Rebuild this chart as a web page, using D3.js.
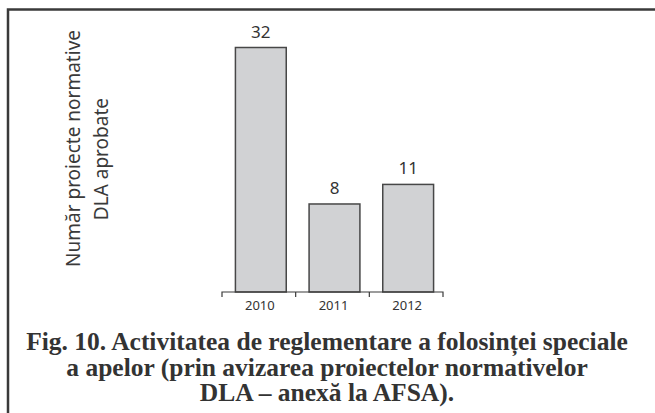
<!DOCTYPE html>
<html>
<head>
<meta charset="utf-8">
<script src="https://cdn.jsdelivr.net/npm/d3@7"></script>
<style>
  body { margin: 0; background: #fff; }
</style>
</head>
<body>
<div id="chart"></div>
<script>
const years = ["2010", "2011", "2012"];
const values = [32, 8, 11];
const yTitle = ["Număr proiecte normative", "DLA aprobate"];
const caption = [
  "Fig. 10. Activitatea de reglementare a folosinței speciale",
  "a apelor (prin avizarea proiectelor normativelor",
  "DLA – anexă la AFSA)."
];

const width = 655;
const height = 413;
const ink = "#3a3a3a";

const svg = d3.select("#chart")
  .append("svg")
  .attr("width", width)
  .attr("height", height);

// frame (left + top edges only are visible)
svg.append("path")
  .attr("d", `M8,${height} V9.5 H${width}`)
  .attr("fill", "none")
  .attr("stroke", ink)
  .attr("stroke-width", 2.5);

const baseline = 292;

const x = d3.scaleBand()
  .domain(years)
  .range([222, 443]);

// the original drawing is not to zero, so bars sit on an offset domain
const y = d3.scaleLinear()
  .domain([-5.5, 32])
  .range([baseline, 47.5]);

const barW = x.bandwidth() * 0.69;
const barX = d => x(d) + (x.bandwidth() - barW) / 2 + 2;

svg.append("g")
  .selectAll("rect")
  .data(values)
  .enter().append("rect")
  .attr("x", (d, i) => barX(years[i]))
  .attr("y", d => y(d))
  .attr("width", barW)
  .attr("height", d => baseline - y(d))
  .attr("fill", "#d1d2d4")
  .attr("stroke", "#474747")
  .attr("stroke-width", 1.5);

svg.append("g")
  .selectAll("text")
  .data(values)
  .enter().append("text")
  .attr("x", (d, i) => barX(years[i]) + barW / 2)
  .attr("y", d => y(d) - 10)
  .attr("text-anchor", "middle")
  .attr("font-family", "Noto Sans, sans-serif")
  .attr("font-size", 17)
  .attr("fill", "#333")
  .text(d => d);

// x axis with ticks at band edges
const axis = svg.append("g")
  .attr("transform", `translate(0,${baseline})`);

axis.append("path")
  .attr("d", `M${x.range()[0]},5 V0 H${x.range()[1]} V5`)
  .attr("fill", "none")
  .attr("stroke", ink)
  .attr("stroke-width", 1.2);

axis.selectAll(".sep")
  .data(years.slice(1))
  .enter().append("line")
  .attr("x1", d => x(d))
  .attr("x2", d => x(d))
  .attr("y1", 0)
  .attr("y2", 5)
  .attr("stroke", ink)
  .attr("stroke-width", 1.2);

axis.selectAll(".yr")
  .data(years)
  .enter().append("text")
  .attr("x", d => x(d) + x.bandwidth() / 2 + 1)
  .attr("y", 18)
  .attr("text-anchor", "middle")
  .attr("font-family", "Noto Sans, sans-serif")
  .attr("font-size", 13)
  .attr("fill", "#333")
  .text(d => d);

// y title, two rotated lines; the ends line up near the top of the frame
svg.append("g")
  .selectAll("text")
  .data(yTitle)
  .enter().append("text")
  .attr("transform", (d, i) => `translate(${80 + i * 28},${i ? 98 : 30}) rotate(-90)`)
  .attr("text-anchor", "end")
  .attr("font-family", "Noto Sans, sans-serif")
  .attr("font-size", 19)
  .attr("fill", "#3a3a3a")
  .text(d => d);

// caption
svg.append("g")
  .selectAll("text")
  .data(caption)
  .enter().append("text")
  .attr("x", 327)
  .attr("y", (d, i) => 350 + i * 25.5)
  .attr("text-anchor", "middle")
  .attr("font-family", "Liberation Serif, serif")
  .attr("font-weight", "bold")
  .attr("font-size", 25.5)
  .attr("fill", "#333")
  .text(d => d);
</script>
</body>
</html>
